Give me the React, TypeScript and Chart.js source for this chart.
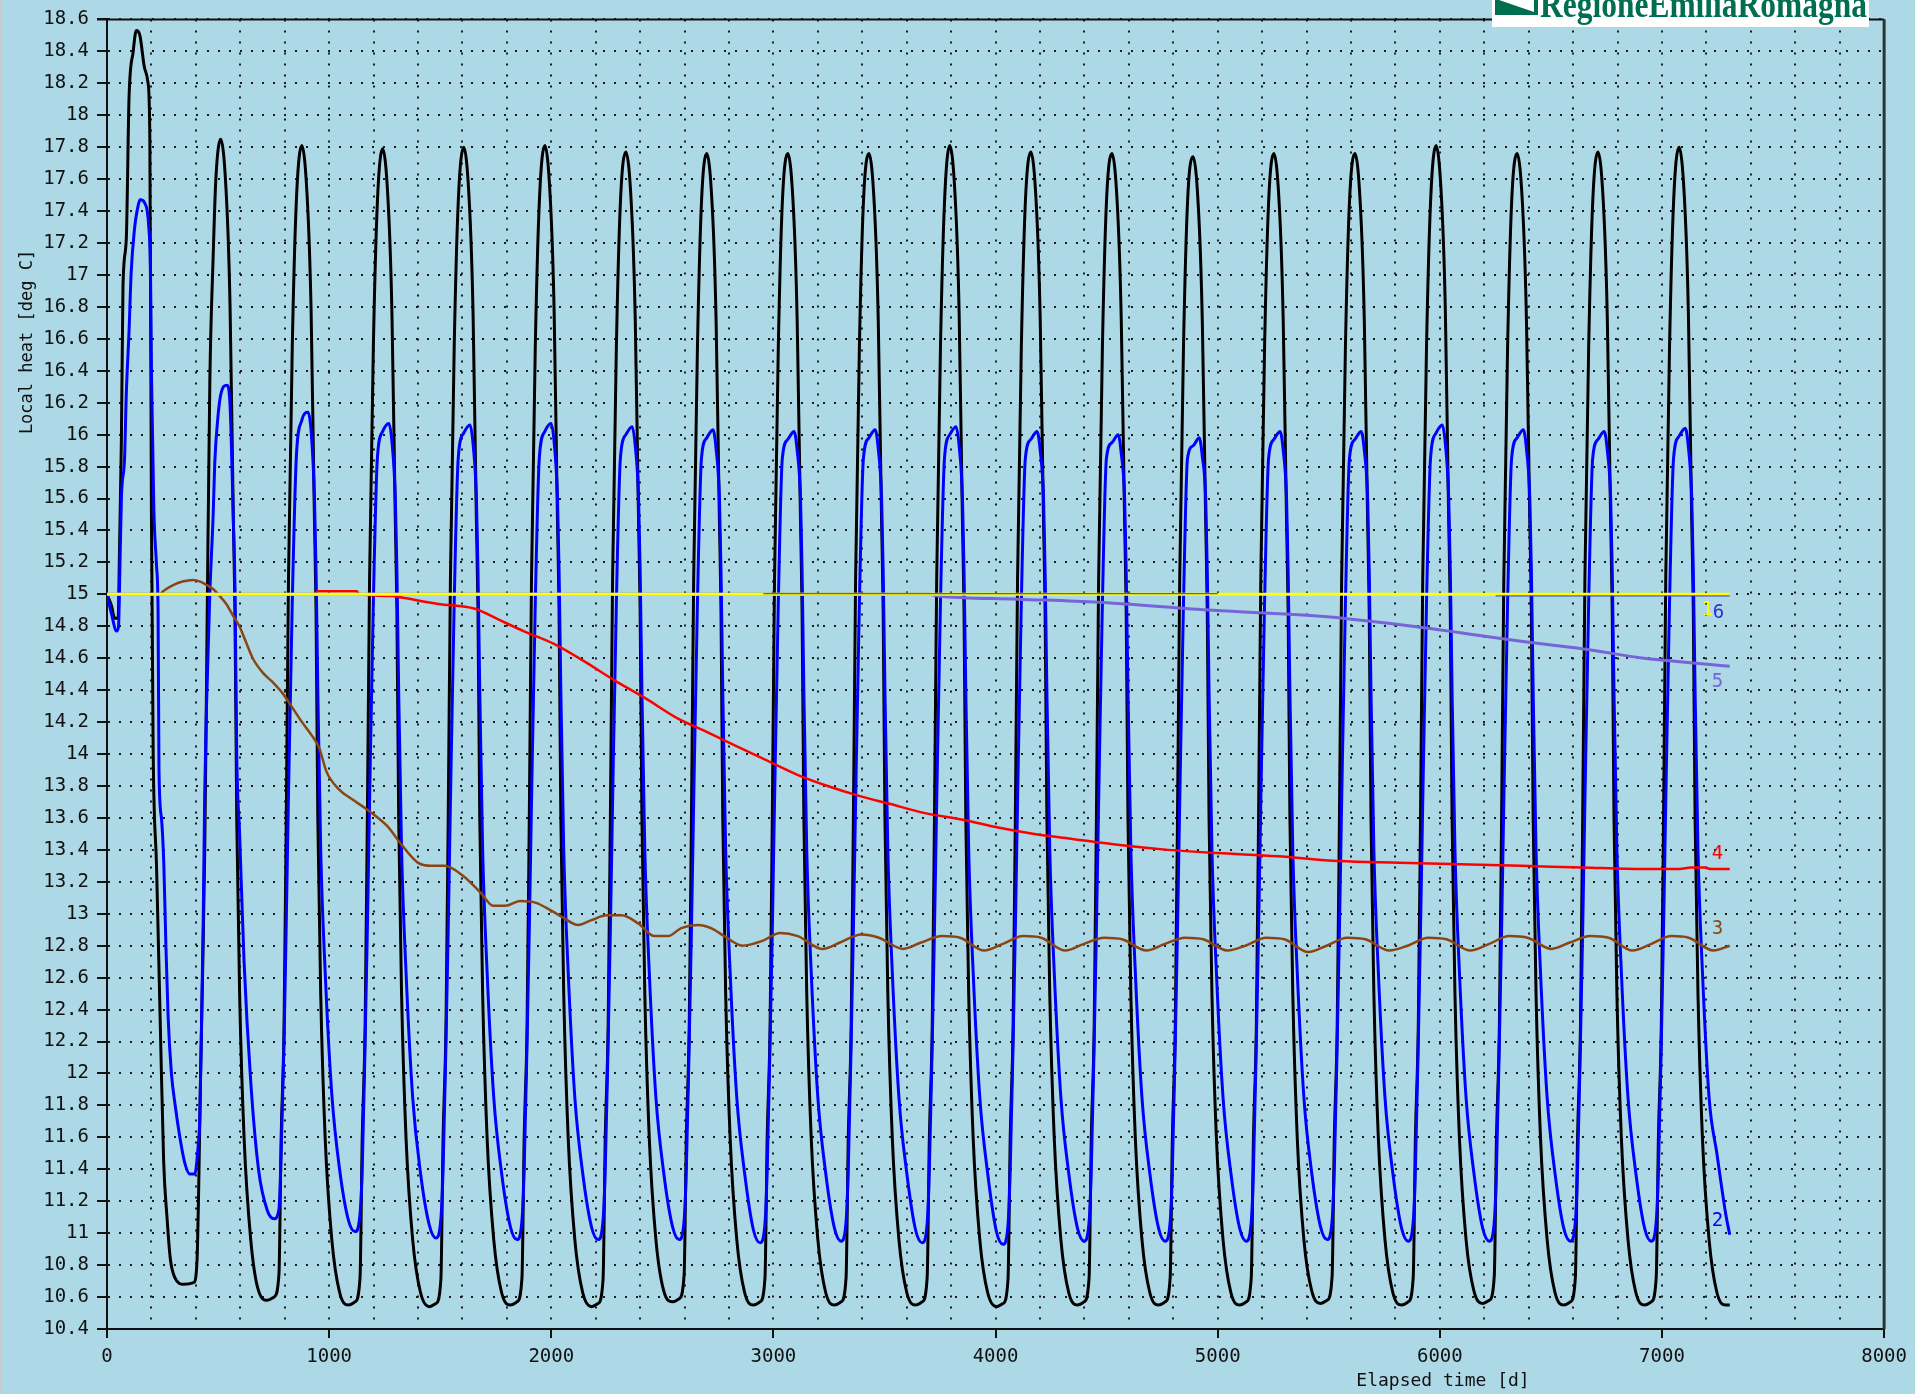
import React, { useEffect, useRef } from 'react';
import { Chart, registerables } from 'chart.js';
Chart.register(...registerables);

// ---------- DATA ----------
const xTickLabels = ['0', '1000', '2000', '3000', '4000', '5000', '6000', '7000', '8000'];
const yTickLabels = ['10.4', '10.6', '10.8', '11', '11.2', '11.4', '11.6', '11.8', '12', '12.2', '12.4', '12.6', '12.8', '13', '13.2', '13.4', '13.6', '13.8', '14', '14.2', '14.4', '14.6', '14.8', '15', '15.2', '15.4', '15.6', '15.8', '16', '16.2', '16.4', '16.6', '16.8', '17', '17.2', '17.4', '17.6', '17.8', '18', '18.2', '18.4', '18.6'];

// first year (days 0..500)
const blackStartDays = [0, 20, 35, 50, 57, 65, 72, 87, 99, 118, 132, 148, 170, 185, 193, 200, 208, 223, 240, 255, 270, 285, 306, 345, 390, 405, 413, 420, 430, 440, 447, 452, 463, 478, 490];
const blackStartVals = [15.0, 14.93, 14.85, 14.85, 15.34, 15.99, 16.93, 17.23, 18.1, 18.4, 18.53, 18.5, 18.29, 18.2, 17.83, 15.5, 14.0, 13.3, 12.3, 11.45, 11.1, 10.84, 10.72, 10.68, 10.69, 10.82, 11.3, 11.9, 12.6, 13.4, 14.3, 15.0, 16.34, 17.12, 17.6];

const blueStartDays = [0, 20, 43, 52, 57, 65, 79, 87, 99, 109, 124, 134, 150, 170, 188, 196, 200, 211, 223, 230, 234, 245, 256, 265, 275, 290, 306, 328, 350, 373, 395, 410, 418, 425, 433, 440, 448, 463, 478, 485, 500];
const blueStartVals = [15.0, 14.88, 14.77, 14.8, 15.09, 15.61, 15.85, 16.26, 16.64, 17.02, 17.29, 17.39, 17.47, 17.45, 17.3, 17.0, 16.39, 15.53, 15.18, 14.88, 13.9, 13.6, 13.3, 12.81, 12.36, 12.0, 11.81, 11.6, 11.44, 11.37, 11.37, 11.54, 11.73, 12.27, 12.95, 13.76, 14.3, 15.01, 15.5, 15.82, 16.12];

// following years: shared sampling days, one row per year
const cycleDays = [
  512, 540, 554, 569, 576, 584, 597, 617, 647, 682, 722, 752, 774, 784, 797, 807, 817, 834, 852,
  877, 905, 919, 934, 941, 949, 962, 982, 1012, 1047, 1087, 1117, 1139, 1149, 1162, 1172, 1182, 1199, 1217,
  1241, 1269, 1283, 1298, 1305, 1313, 1326, 1346, 1376, 1411, 1451, 1481, 1503, 1513, 1526, 1536, 1546, 1563, 1581,
  1606, 1634, 1648, 1663, 1670, 1678, 1691, 1711, 1741, 1776, 1816, 1846, 1868, 1878, 1891, 1901, 1911, 1928, 1946,
  1971, 1999, 2013, 2028, 2035, 2043, 2056, 2076, 2106, 2141, 2181, 2211, 2233, 2243, 2256, 2266, 2276, 2293, 2311,
  2336, 2364, 2378, 2393, 2400, 2408, 2421, 2441, 2471, 2506, 2546, 2576, 2598, 2608, 2621, 2631, 2641, 2658, 2676,
  2700, 2728, 2742, 2757, 2764, 2772, 2785, 2805, 2835, 2870, 2910, 2940, 2962, 2972, 2985, 2995, 3005, 3022, 3040,
  3065, 3093, 3107, 3122, 3129, 3137, 3150, 3170, 3200, 3235, 3275, 3305, 3327, 3337, 3350, 3360, 3370, 3387, 3405,
  3430, 3458, 3472, 3487, 3494, 3502, 3515, 3535, 3565, 3600, 3640, 3670, 3692, 3702, 3715, 3725, 3735, 3752, 3770,
  3794, 3822, 3836, 3851, 3858, 3866, 3879, 3899, 3929, 3964, 4004, 4034, 4056, 4066, 4079, 4089, 4099, 4116, 4134,
  4159, 4187, 4201, 4216, 4223, 4231, 4244, 4264, 4294, 4329, 4369, 4399, 4421, 4431, 4444, 4454, 4464, 4481, 4499,
  4524, 4552, 4566, 4581, 4588, 4596, 4609, 4629, 4659, 4694, 4734, 4764, 4786, 4796, 4809, 4819, 4829, 4846, 4864,
  4889, 4917, 4931, 4946, 4953, 4961, 4974, 4994, 5024, 5059, 5099, 5129, 5151, 5161, 5174, 5184, 5194, 5211, 5229,
  5253, 5281, 5295, 5310, 5317, 5325, 5338, 5358, 5388, 5423, 5463, 5493, 5515, 5525, 5538, 5548, 5558, 5575, 5593,
  5618, 5646, 5660, 5675, 5682, 5690, 5703, 5723, 5753, 5788, 5828, 5858, 5880, 5890, 5903, 5913, 5923, 5940, 5958,
  5983, 6011, 6025, 6040, 6047, 6055, 6068, 6088, 6118, 6153, 6193, 6223, 6245, 6255, 6268, 6278, 6288, 6305, 6323,
  6348, 6376, 6390, 6405, 6412, 6420, 6433, 6453, 6483, 6518, 6558, 6588, 6610, 6620, 6633, 6643, 6653, 6670, 6688,
  6712, 6740, 6754, 6769, 6776, 6784, 6797, 6817, 6847, 6882, 6922, 6952, 6974, 6984, 6997, 7007, 7017, 7034, 7052,
  7077, 7105, 7119, 7134, 7141, 7149, 7162, 7182, 7212, 7247, 7287, 7305,
];

const blackCycleVals = [
  17.85, 17.42, 16.8, 15.45, 14.9, 13.6, 12.5, 11.6, 10.96, 10.64, 10.58, 10.6, 10.74, 11.6, 12.3, 13.6, 15.1, 16.55, 17.45,
  17.81, 17.38, 16.76, 15.45, 14.9, 13.6, 12.5, 11.6, 10.96, 10.63, 10.55, 10.57, 10.72, 11.6, 12.3, 13.6, 15.1, 16.55, 17.45,
  17.79, 17.36, 16.74, 15.45, 14.9, 13.6, 12.5, 11.6, 10.96, 10.63, 10.54, 10.56, 10.71, 11.6, 12.3, 13.6, 15.1, 16.55, 17.45,
  17.8, 17.37, 16.75, 15.45, 14.9, 13.6, 12.5, 11.6, 10.96, 10.63, 10.55, 10.57, 10.72, 11.6, 12.3, 13.6, 15.1, 16.55, 17.45,
  17.81, 17.38, 16.76, 15.45, 14.9, 13.6, 12.5, 11.6, 10.96, 10.63, 10.54, 10.56, 10.71, 11.6, 12.3, 13.6, 15.1, 16.55, 17.45,
  17.77, 17.34, 16.72, 15.45, 14.9, 13.6, 12.5, 11.6, 10.96, 10.64, 10.57, 10.59, 10.74, 11.6, 12.3, 13.6, 15.1, 16.55, 17.45,
  17.76, 17.33, 16.71, 15.45, 14.9, 13.6, 12.5, 11.6, 10.96, 10.63, 10.55, 10.57, 10.72, 11.6, 12.3, 13.6, 15.1, 16.55, 17.45,
  17.76, 17.33, 16.71, 15.45, 14.9, 13.6, 12.5, 11.6, 10.96, 10.63, 10.55, 10.57, 10.72, 11.6, 12.3, 13.6, 15.1, 16.55, 17.45,
  17.76, 17.33, 16.71, 15.45, 14.9, 13.6, 12.5, 11.6, 10.96, 10.63, 10.55, 10.57, 10.72, 11.6, 12.3, 13.6, 15.1, 16.55, 17.45,
  17.81, 17.38, 16.76, 15.45, 14.9, 13.6, 12.5, 11.6, 10.96, 10.63, 10.54, 10.56, 10.71, 11.6, 12.3, 13.6, 15.1, 16.55, 17.45,
  17.77, 17.34, 16.72, 15.45, 14.9, 13.6, 12.5, 11.6, 10.96, 10.63, 10.55, 10.57, 10.72, 11.6, 12.3, 13.6, 15.1, 16.55, 17.45,
  17.76, 17.33, 16.71, 15.45, 14.9, 13.6, 12.5, 11.6, 10.96, 10.63, 10.55, 10.57, 10.72, 11.6, 12.3, 13.6, 15.1, 16.55, 17.45,
  17.74, 17.31, 16.69, 15.45, 14.9, 13.6, 12.5, 11.6, 10.96, 10.63, 10.55, 10.57, 10.72, 11.6, 12.3, 13.6, 15.1, 16.55, 17.45,
  17.76, 17.33, 16.71, 15.45, 14.9, 13.6, 12.5, 11.6, 10.96, 10.64, 10.56, 10.58, 10.73, 11.6, 12.3, 13.6, 15.1, 16.55, 17.45,
  17.76, 17.33, 16.71, 15.45, 14.9, 13.6, 12.5, 11.6, 10.96, 10.63, 10.55, 10.57, 10.72, 11.6, 12.3, 13.6, 15.1, 16.55, 17.45,
  17.81, 17.38, 16.76, 15.45, 14.9, 13.6, 12.5, 11.6, 10.96, 10.64, 10.56, 10.58, 10.73, 11.6, 12.3, 13.6, 15.1, 16.55, 17.45,
  17.76, 17.33, 16.71, 15.45, 14.9, 13.6, 12.5, 11.6, 10.96, 10.63, 10.55, 10.57, 10.72, 11.6, 12.3, 13.6, 15.1, 16.55, 17.45,
  17.77, 17.34, 16.72, 15.45, 14.9, 13.6, 12.5, 11.6, 10.96, 10.63, 10.55, 10.57, 10.72, 11.6, 12.3, 13.6, 15.1, 16.55, 17.45,
  17.8, 17.37, 16.75, 15.45, 14.9, 13.6, 12.5, 11.6, 10.96, 10.63, 10.55, 10.55,
];

const blueCycleVals = [
  16.25, 16.31, 16.18, 15.45, 15.05, 14.0, 13.5, 12.7, 11.95, 11.4, 11.14, 11.09, 11.15, 11.5, 12.2, 12.95, 13.75, 14.95, 15.85,
  16.09, 16.14, 16.02, 15.6, 15.15, 14.4, 13.4, 12.64, 11.87, 11.4, 11.08, 11.01, 11.12, 11.4, 12.2, 12.9, 13.7, 14.95, 15.85,
  16.02, 16.07, 15.95, 15.6, 15.15, 14.4, 13.4, 12.64, 11.85, 11.38, 11.05, 10.97, 11.09, 11.4, 12.2, 12.9, 13.7, 14.95, 15.85,
  16.01, 16.06, 15.94, 15.6, 15.15, 14.4, 13.4, 12.64, 11.85, 11.38, 11.04, 10.96, 11.08, 11.4, 12.2, 12.9, 13.7, 14.95, 15.85,
  16.02, 16.07, 15.95, 15.6, 15.15, 14.4, 13.4, 12.64, 11.85, 11.38, 11.04, 10.96, 11.08, 11.4, 12.2, 12.9, 13.7, 14.95, 15.85,
  16.0, 16.05, 15.93, 15.6, 15.15, 14.4, 13.4, 12.64, 11.85, 11.38, 11.04, 10.96, 11.08, 11.4, 12.2, 12.9, 13.7, 14.95, 15.85,
  15.98, 16.03, 15.91, 15.6, 15.15, 14.4, 13.4, 12.64, 11.85, 11.38, 11.02, 10.94, 11.06, 11.4, 12.2, 12.9, 13.7, 14.95, 15.85,
  15.97, 16.02, 15.9, 15.6, 15.15, 14.4, 13.4, 12.64, 11.85, 11.38, 11.03, 10.95, 11.07, 11.4, 12.2, 12.9, 13.7, 14.95, 15.85,
  15.98, 16.03, 15.91, 15.6, 15.15, 14.4, 13.4, 12.64, 11.85, 11.38, 11.02, 10.94, 11.06, 11.4, 12.2, 12.9, 13.7, 14.95, 15.85,
  16.0, 16.05, 15.93, 15.6, 15.15, 14.4, 13.4, 12.64, 11.85, 11.38, 11.01, 10.93, 11.05, 11.4, 12.2, 12.9, 13.7, 14.95, 15.85,
  15.97, 16.02, 15.9, 15.6, 15.15, 14.4, 13.4, 12.64, 11.85, 11.38, 11.03, 10.95, 11.07, 11.4, 12.2, 12.9, 13.7, 14.95, 15.85,
  15.95, 16.0, 15.88, 15.6, 15.15, 14.4, 13.4, 12.64, 11.85, 11.38, 11.03, 10.95, 11.07, 11.4, 12.2, 12.9, 13.7, 14.95, 15.85,
  15.93, 15.98, 15.86, 15.6, 15.15, 14.4, 13.4, 12.64, 11.85, 11.38, 11.03, 10.95, 11.07, 11.4, 12.2, 12.9, 13.7, 14.95, 15.85,
  15.97, 16.02, 15.9, 15.6, 15.15, 14.4, 13.4, 12.64, 11.85, 11.38, 11.04, 10.96, 11.08, 11.4, 12.2, 12.9, 13.7, 14.95, 15.85,
  15.97, 16.02, 15.9, 15.6, 15.15, 14.4, 13.4, 12.64, 11.85, 11.38, 11.03, 10.95, 11.07, 11.4, 12.2, 12.9, 13.7, 14.95, 15.85,
  16.01, 16.06, 15.94, 15.6, 15.15, 14.4, 13.4, 12.64, 11.85, 11.38, 11.03, 10.95, 11.07, 11.4, 12.2, 12.9, 13.7, 14.95, 15.85,
  15.98, 16.03, 15.91, 15.6, 15.15, 14.4, 13.4, 12.64, 11.85, 11.38, 11.03, 10.95, 11.07, 11.4, 12.2, 12.9, 13.7, 14.95, 15.85,
  15.97, 16.02, 15.9, 15.6, 15.15, 14.4, 13.4, 12.64, 11.85, 11.38, 11.03, 10.95, 11.07, 11.4, 12.2, 12.9, 13.7, 14.95, 15.85,
  15.99, 16.04, 15.92, 15.6, 15.15, 14.4, 13.4, 12.64, 11.85, 11.5, 11.12, 10.99,
];

const brownDays = [240, 253, 300, 340, 387, 420, 447, 480, 507, 537, 566, 596, 626, 656, 701, 746, 791, 830, 878, 920, 955, 988, 1043, 1100, 1163, 1261, 1327, 1399, 1460, 1519, 1601, 1683, 1738, 1793, 1860, 1928, 2000, 2060, 2121, 2181, 2250, 2316, 2391, 2465, 2525, 2585, 2660, 2719, 2779, 2860, 2950, 3030, 3110, 3220, 3300, 3395, 3475, 3585, 3665, 3759, 3840, 3949, 4030, 4124, 4205, 4314, 4395, 4489, 4570, 4679, 4760, 4854, 4935, 5044, 5125, 5218, 5300, 5408, 5490, 5583, 5665, 5773, 5855, 5948, 6030, 6138, 6220, 6313, 6395, 6503, 6585, 6677, 6760, 6867, 6950, 7042, 7120, 7232, 7305];
const brownVals = [15.0, 15.02, 15.06, 15.08, 15.09, 15.08, 15.06, 15.03, 14.99, 14.94, 14.87, 14.8, 14.7, 14.6, 14.51, 14.45, 14.38, 14.3, 14.2, 14.12, 14.04, 13.89, 13.78, 13.72, 13.66, 13.55, 13.43, 13.32, 13.3, 13.3, 13.24, 13.13, 13.05, 13.05, 13.08, 13.07, 13.02, 12.97, 12.93, 12.96, 12.99, 12.99, 12.94, 12.86, 12.86, 12.91, 12.93, 12.91, 12.86, 12.8, 12.83, 12.88, 12.86, 12.78, 12.82, 12.87, 12.85, 12.78, 12.82, 12.86, 12.85, 12.77, 12.81, 12.86, 12.85, 12.77, 12.81, 12.85, 12.84, 12.77, 12.81, 12.85, 12.84, 12.77, 12.8, 12.85, 12.84, 12.76, 12.8, 12.85, 12.84, 12.77, 12.8, 12.85, 12.84, 12.77, 12.81, 12.86, 12.85, 12.78, 12.82, 12.86, 12.85, 12.77, 12.81, 12.86, 12.85, 12.77, 12.8];

const redDays = [0, 940, 946, 1126, 1132, 1283, 1327, 1491, 1656, 1766, 1875, 2012, 2149, 2286, 2423, 2560, 2697, 2833, 2970, 3108, 3244, 3381, 3518, 3682, 3847, 4011, 4175, 4339, 4559, 4777, 4997, 5271, 5545, 5818, 6092, 6366, 6641, 6915, 7080, 7130, 7190, 7220, 7305];
const redVals = [15.0, 15.0, 15.02, 15.02, 15.0, 14.99, 14.98, 14.94, 14.91, 14.84, 14.77, 14.69, 14.58, 14.46, 14.35, 14.23, 14.14, 14.05, 13.96, 13.87, 13.8, 13.74, 13.69, 13.63, 13.59, 13.54, 13.5, 13.47, 13.43, 13.4, 13.38, 13.36, 13.33, 13.32, 13.31, 13.3, 13.29, 13.28, 13.28, 13.29, 13.29, 13.28, 13.28];

const purpleDays = [0, 3700, 3740, 4100, 4462, 4978, 5491, 5877, 6092, 6400, 6641, 6919, 7067, 7215, 7305];
const purpleVals = [15.0, 15.0, 14.99, 14.97, 14.95, 14.9, 14.86, 14.8, 14.76, 14.7, 14.66, 14.6, 14.58, 14.56, 14.55];

const yellowDays = [0, 7305];
const yellowVals = [15.0, 15.0];

const thinDays = [2955, 5000, 5001, 6251, 7305];
const thinVals = [15.004, 15.004, null, 14.99, 14.99];

// ---------- helpers ----------
const pts = (d: number[], v: (number | null)[]) => {
  const n = Math.min(d.length, v.length);
  const out: { x: number; y: number | null }[] = [];
  for (let i = 0; i < n; i++) out.push({ x: d[i], y: v[i] });
  return out;
};

const MONO = '"DejaVu Sans Mono", "Liberation Mono", monospace';

const decoPlugin = {
  id: 'deco',
  beforeDraw(chart: any) {
    const ctx = chart.ctx;
    ctx.save();
    ctx.fillStyle = '#ADD8E6';
    ctx.fillRect(0, 0, chart.width, chart.height);
    ctx.fillStyle = '#c9c9c9';
    ctx.fillRect(0, 0, 2, chart.height);
    ctx.restore();
  },
  afterDraw(chart: any) {
    const ctx = chart.ctx;
    const a = chart.chartArea;
    ctx.save();
    // top and right frame
    ctx.strokeStyle = '#111';
    ctx.lineWidth = 2;
    ctx.beginPath();
    ctx.moveTo(a.left - 10, a.top);
    ctx.lineTo(a.right, a.top);
    ctx.stroke();
    ctx.strokeStyle = '#2a3535';
    ctx.lineWidth = 3;
    ctx.beginPath();
    ctx.moveTo(a.right, a.top);
    ctx.lineTo(a.right, a.bottom);
    ctx.stroke();

    // end-of-line labels
    const xs = chart.scales.x;
    const ys = chart.scales.y;
    ctx.font = '19px ' + MONO;
    ctx.textAlign = 'left';
    ctx.textBaseline = 'middle';
    chart.data.datasets.forEach((ds: any) => {
      if (!ds.endLabel) return;
      const data = ds.data.filter((p: any) => p.y !== null);
      const last = data[data.length - 1];
      const px = xs.getPixelForValue(last.x) + ds.endLabelDx;
      const py = ys.getPixelForValue(last.y) + ds.endLabelDy;
      ctx.fillStyle = ds.endLabelColor || ds.borderColor;
      ctx.fillText(ds.endLabel, px, py);
    });

    // axis titles
    ctx.fillStyle = '#111';
    ctx.font = '18px ' + MONO;
    ctx.textAlign = 'center';
    ctx.fillText('Elapsed time [d]', 1443, 1381);
    ctx.save();
    ctx.translate(28, 342);
    ctx.rotate(-Math.PI / 2);
    ctx.font = '17px ' + MONO;
    ctx.fillText('Local heat [deg C]', 0, 0);
    ctx.restore();

    // logo
    ctx.fillStyle = '#ffffff';
    ctx.fillRect(1492, 0, 377, 27);
    ctx.fillStyle = '#006f4f';
    ctx.fillRect(1495, 0, 43, 15);
    ctx.fillStyle = '#ffffff';
    ctx.beginPath();
    ctx.moveTo(1499, 0);
    ctx.lineTo(1534, 0);
    ctx.lineTo(1534, 12);
    ctx.closePath();
    ctx.fill();
    ctx.fillStyle = '#006f4f';
    ctx.font = 'bold 38px "Liberation Serif", "DejaVu Serif", serif';
    ctx.textAlign = 'left';
    ctx.textBaseline = 'alphabetic';
    ctx.fillText('RegioneEmiliaRomagna', 1540, 17, 327);
    ctx.restore();
  },
};

export default function App() {
  const ref = useRef<HTMLCanvasElement | null>(null);
  useEffect(() => {
    if (!ref.current) return;
    const black = pts(blackStartDays.concat(cycleDays), blackStartVals.concat(blackCycleVals));
    const blue = pts(blueStartDays.concat(cycleDays), blueStartVals.concat(blueCycleVals));
    const chart = new Chart(ref.current, {
      type: 'line',
      data: {
        datasets: [
          { label: '6', data: pts(thinDays, thinVals), borderColor: '#3535c8', borderWidth: 1, spanGaps: false,
            endLabel: '6', endLabelDx: -17, endLabelDy: 17, endLabelColor: '#2a2ad8' } as any,
          { label: '1', data: pts(yellowDays, yellowVals), borderColor: '#ffff00', borderWidth: 3,
            endLabel: '1', endLabelDx: -28, endLabelDy: 16 } as any,
          { label: '5', data: pts(purpleDays, purpleVals), borderColor: '#7565d8', borderWidth: 3,
            endLabel: '5', endLabelDx: -18, endLabelDy: 16 } as any,
          { label: '4', data: pts(redDays, redVals), borderColor: '#ff0000', borderWidth: 2.5,
            endLabel: '4', endLabelDx: -18, endLabelDy: -15 } as any,
          { label: '3', data: pts(brownDays, brownVals), borderColor: '#8b4513', borderWidth: 2.5,
            endLabel: '3', endLabelDx: -18, endLabelDy: -17 } as any,
          { label: '2', data: blue, borderColor: '#0000ff', borderWidth: 3,
            endLabel: '2', endLabelDx: -18, endLabelDy: -14 } as any,
          { label: '0', data: black, borderColor: '#000000', borderWidth: 3 } as any,
        ],
      },
      options: {
        responsive: false,
        animation: false,
        devicePixelRatio: 1,
        layout: { padding: { left: 0, top: 15, right: 22, bottom: 0 } },
        plugins: { legend: { display: false }, tooltip: { enabled: false }, title: { display: false } },
        elements: {
          point: { radius: 0, hoverRadius: 0 },
          line: { cubicInterpolationMode: 'monotone', fill: false, borderCapStyle: 'butt', borderJoinStyle: 'round' },
        },
        scales: {
          x: {
            type: 'linear',
            min: 0,
            max: 8000,
            afterFit: (s: any) => { s.height = 65; },
            ticks: {
              stepSize: 200,
              autoSkip: false,
              maxRotation: 0,
              minRotation: 0,
              padding: 8,
              color: '#111',
              font: { family: MONO, size: 19 },
              callback: (v: any) => {
                const s = String(Math.round(Number(v)));
                return xTickLabels.includes(s) ? s : '';
              },
            },
            grid: {
              color: '#1c1c1c',
              lineWidth: 2,
              tickLength: 9,
              tickWidth: 2,
              tickColor: (c: any) => (c.tick && Math.round(c.tick.value) % 1000 === 0 ? '#111' : 'rgba(0,0,0,0)'),
            },
            border: { display: true, color: '#111', width: 2, dash: [2, 9] },
          },
          y: {
            type: 'linear',
            min: 10.4,
            max: 18.6,
            afterFit: (s: any) => { s.width = 107; },
            ticks: {
              stepSize: 0.2,
              autoSkip: false,
              padding: 8,
              color: '#111',
              font: { family: MONO, size: 19 },
              callback: (v: any) => {
                const f = yTickLabels.find((l) => Math.abs(parseFloat(l) - Number(v)) < 1e-6);
                return f ?? '';
              },
            },
            grid: { color: '#1c1c1c', lineWidth: 2, tickLength: 10, tickWidth: 2, tickColor: '#111' },
            border: { display: true, color: '#111', width: 2, dash: [2, 9] },
          },
        },
      } as any,
      plugins: [decoPlugin],
    });
    return () => chart.destroy();
  }, []);
  return (
    <div style={{ position: 'fixed', left: 0, top: 0, width: 1915, height: 1394, background: '#ADD8E6' }}>
      <canvas ref={ref} width={1915} height={1394} style={{ width: 1915, height: 1394, display: 'block' }} />
    </div>
  );
}
